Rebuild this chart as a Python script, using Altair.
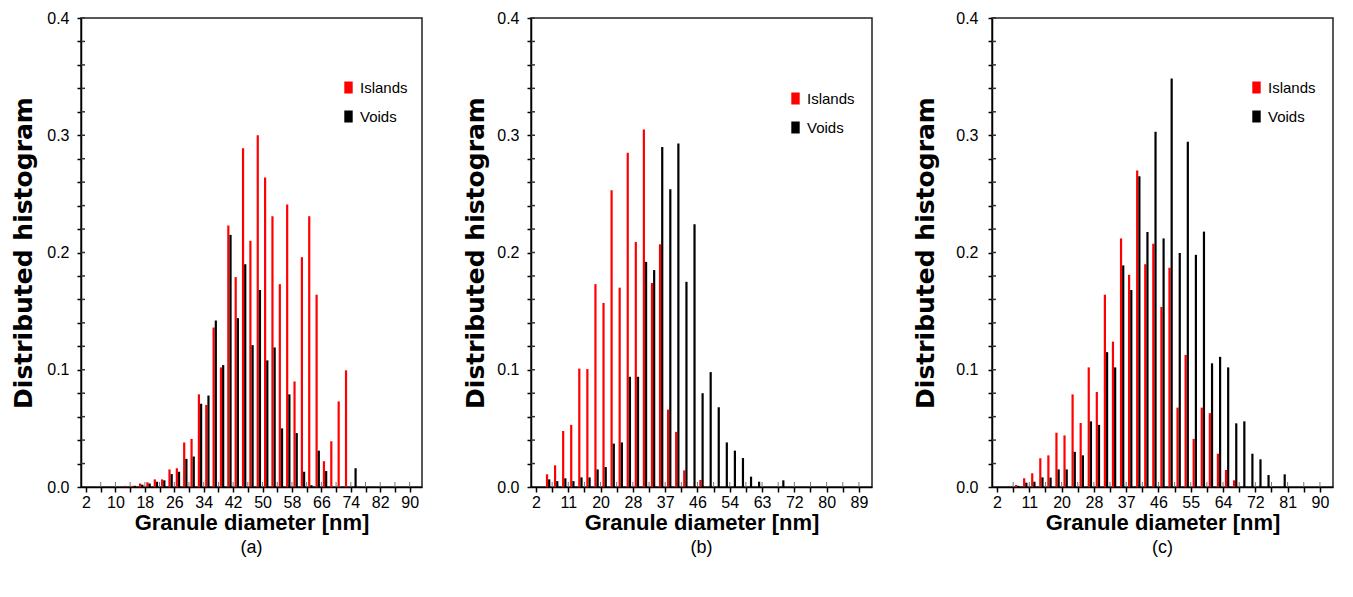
import altair as alt
import pandas as pd

SERIES = ["Islands", "Voids"]
COLORS = ["#ff0000", "#000000"]
Y_TICKS = [round(0.02 * i, 2) for i in range(21)]

# ---- panel (a): bins of 2 nm starting at 2 nm ----
A_LABELS = ["2", "10", "18", "26", "34", "42", "50", "58", "66", "74", "82", "90"]
A_ISLANDS = [0, 0, 0, 0, 0, 0.001, 0.001, 0.003, 0.004, 0.0065, 0.0065, 0.015, 0.016,
             0.038, 0.041, 0.079, 0.070, 0.136, 0.102, 0.223, 0.179, 0.289, 0.210, 0.300,
             0.264, 0.231, 0.173, 0.241, 0.090, 0.196, 0.231, 0.164, 0.022, 0.039, 0.073,
             0.0995, 0, 0, 0, 0, 0, 0, 0, 0]
A_VOIDS = [0, 0, 0, 0, 0, 0, 0.001, 0.002, 0.003, 0.0045, 0.0057, 0.011, 0.013, 0.024,
           0.026, 0.071, 0.078, 0.142, 0.104, 0.215, 0.144, 0.190, 0.121, 0.168, 0.108,
           0.119, 0.050, 0.079, 0.046, 0.013, 0.0015, 0.031, 0.0136, 0, 0, 0, 0.016,
           0, 0, 0, 0, 0, 0, 0]

# ---- panel (b) ----
B_LABELS = ["2", "11", "20", "28", "37", "46", "54", "63", "72", "80", "89"]
B_ISLANDS = [0, 0.0108, 0.0185, 0.0478, 0.053, 0.101, 0.1006, 0.173, 0.157, 0.253, 0.170,
             0.285, 0.209, 0.305, 0.174, 0.207, 0.066, 0.047, 0.0142, 0.0005, 0.006,
             0, 0, 0, 0, 0, 0, 0, 0, 0, 0, 0, 0, 0, 0, 0, 0, 0, 0, 0]
B_VOIDS = [0, 0.0065, 0.005, 0.0074, 0.005, 0.0082, 0.0082, 0.015, 0.017, 0.037, 0.038,
           0.094, 0.094, 0.192, 0.185, 0.290, 0.254, 0.293, 0.175, 0.224, 0.080, 0.098,
           0.068, 0.038, 0.031, 0.0247, 0.0088, 0.0045, 0, 0, 0.0057,
           0, 0, 0, 0, 0, 0, 0, 0, 0]

# ---- panel (c) ----
C_LABELS = ["2", "11", "20", "28", "37", "46", "55", "64", "72", "81", "90"]
C_ISLANDS = [0, 0, 0.0017, 0.0074, 0.0117, 0.0245, 0.027, 0.0463, 0.044, 0.079, 0.0546,
             0.102, 0.081, 0.164, 0.124, 0.212, 0.181, 0.270, 0.190, 0.2075, 0.1535, 0.187,
             0.0677, 0.1126, 0.041, 0.0677, 0.063, 0.0284, 0.0145, 0.0057,
             0, 0, 0, 0, 0, 0, 0, 0, 0, 0]
C_VOIDS = [0, 0, 0.001, 0.0037, 0.0045, 0.0082, 0.008, 0.015, 0.015, 0.030, 0.027, 0.056,
           0.053, 0.115, 0.102, 0.189, 0.168, 0.265, 0.2175, 0.303, 0.212, 0.3485, 0.1996,
           0.2945, 0.198, 0.2178, 0.1055, 0.111, 0.102, 0.0543, 0.056, 0.0284, 0.0236,
           0.0102, 0, 0.0108, 0, 0, 0, 0]

W = 341
H = 469
SYMBOL = "M-0.7,-1H0.7V1H-0.7Z"


def make_panel(letter, start, bin_w, label_step, x_max, labels, islands, voids,
               leg_x, leg_y, label_pad=8, title_pad=10):
    rows = []
    for i, (vi, vv) in enumerate(zip(islands, voids)):
        c = start + (i + 0.5) * bin_w
        if vi > 0:
            rows.append({"d": c, "series": "Islands", "v": vi})
        if vv > 0:
            rows.append({"d": c, "series": "Voids", "v": vv})
    df = pd.DataFrame(rows)
    tick_step = label_step / 2
    x_ticks = [round(start + j * tick_step, 4) for j in range(2 * (len(labels) - 1) + 1)]
    arr = "[" + ",".join(f"'{l}'" for l in labels) + "]"
    label_expr = (f"(round((datum.value - {start}) / {tick_step}) % 2 == 0) ? "
                  f"{arr}[round((datum.value - {start}) / {label_step})] : ''")
    xaxis = alt.Axis(values=x_ticks, labelExpr=label_expr, title="Granule diameter [nm]",
                     tickSize=5, labelPadding=2, labelFont="Liberation Sans", labelFontSize=16,
                     labelOverlap=False, labelFlush=False, titleFont="Liberation Sans",
                     titleFontSize=22, titleFontWeight="bold", titlePadding=2, grid=False)
    yaxis = alt.Axis(values=Y_TICKS,
                     labelExpr="(round(datum.value * 100) % 10 == 0) ? format(datum.value, '.1f') : ''",
                     title="Distributed histogram", tickSize=4, labelPadding=label_pad,
                     labelFont="Liberation Sans", labelFontSize=16, labelOverlap=False,
                     labelFlush=False, titleFont="DejaVu Sans", titleFontSize=25,
                     titleFontWeight="bold", titlePadding=title_pad, grid=False)
    xscale = alt.Scale(domain=[start, x_max], nice=False, zero=False)
    yscale = alt.Scale(domain=[0, 0.4], nice=False)
    legend = alt.Legend(orient="none", legendX=leg_x, legendY=leg_y, title=None,
                        direction="vertical", symbolType=SYMBOL, symbolSize=144,
                        symbolStrokeWidth=0, labelFont="Liberation Sans", labelFontSize=15,
                        labelColor="black", rowPadding=13, labelOffset=4)
    color = alt.Color("series:N", scale=alt.Scale(domain=SERIES, range=COLORS), legend=legend)
    base = alt.Chart(df)
    x_enc = alt.X("d:Q", scale=xscale, axis=xaxis)
    y_enc = alt.Y("v:Q", scale=yscale, axis=yaxis)
    red = base.transform_filter(alt.datum.series == "Islands").mark_bar(
        size=2.2, xOffset=-1.1).encode(x=x_enc, y=y_enc, color=color)
    black = base.transform_filter(alt.datum.series == "Voids").mark_bar(
        size=2.2, xOffset=1.1).encode(x=x_enc, y=y_enc, color=color)
    xt = alt.Chart(pd.DataFrame({"d": x_ticks[1:]})).mark_rule(
        color="#777", strokeWidth=1).encode(x=x_enc, y=alt.value(H - 5), y2=alt.value(H))
    yt = alt.Chart(pd.DataFrame({"v": Y_TICKS[1:]})).mark_rule(
        color="#333", strokeWidth=1.5).encode(y=y_enc, x=alt.value(0), x2=alt.value(4))
    return alt.layer(red, black, xt, yt).properties(
        width=W, height=H,
        title=alt.TitleParams(f"({letter})", orient="bottom", anchor="middle",
                              font="Liberation Sans", fontSize=18, fontWeight="normal",
                              color="black", offset=6))


pa = make_panel("a", 2, 2.0, 8.0, 92.0, A_LABELS, A_ISLANDS, A_VOIDS, 260, 62)
pb = make_panel("b", 2, 2.175, 8.7, 91.175, B_LABELS, B_ISLANDS, B_VOIDS, 257, 73,
                title_pad=8)
pc = make_panel("c", 2, 2.2, 8.8, 92.2, C_LABELS, C_ISLANDS, C_VOIDS, 257, 62,
                label_pad=10, title_pad=17)

chart = alt.hconcat(pa, pb, pc, spacing=40).resolve_scale(
    color="independent", x="independent", y="independent"
).resolve_legend(color="independent").properties(
    padding={"left": 3, "top": 1, "right": 0, "bottom": 0}
).configure_view(stroke="#222", strokeWidth=1.5).configure_axis(
    domainColor="black", domainWidth=1.5, tickColor="black", tickWidth=1.5,
    labelColor="black", titleColor="black")

chart.save("out.html", embed_options={"renderer": "svg", "actions": False})
